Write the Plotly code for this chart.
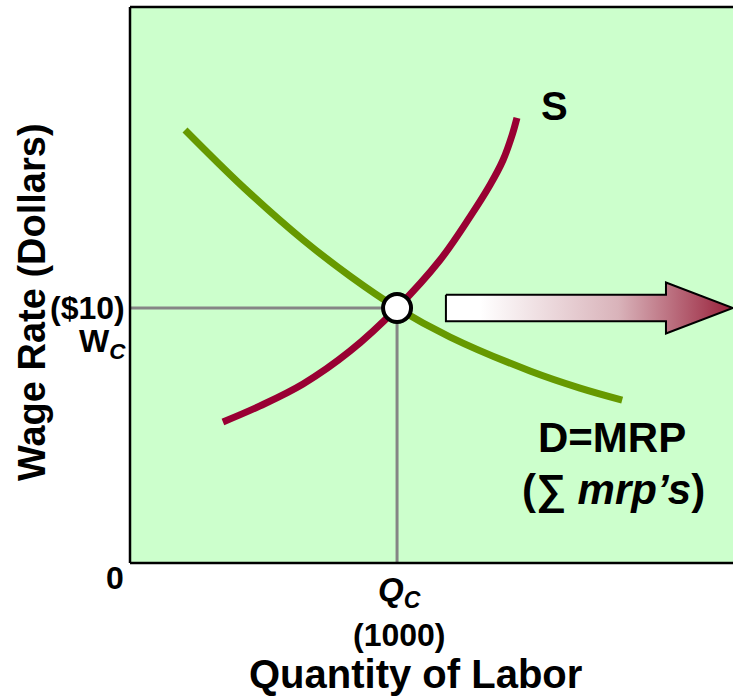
import plotly.graph_objects as go

# ---- data ----
Q_C = 1000          # equilibrium quantity of labor
W_C = 10            # equilibrium wage ($)

demand_q = [206, 427, 648, 824, 1000, 1199, 1498, 1685, 1843]
demand_w = [16.98, 14.71, 12.67, 11.25, 10.0, 8.86, 7.53, 6.86, 6.39]

supply_q = [348, 487, 648, 824, 1000, 1161, 1273, 1348, 1397, 1431, 1449]
supply_w = [5.53, 6.16, 7.02, 8.31, 10.0, 11.88, 13.57, 14.82, 15.80, 16.78, 17.45]

X_MAX = 2258
Y_MAX = 21.8

FONT = "Liberation Sans, Arial, sans-serif"
GREEN = "#669900"
RED = "#990033"
GRAY = "#858585"

fig = go.Figure()

# guide lines
fig.add_trace(go.Scatter(x=[0, Q_C], y=[W_C, W_C], mode="lines",
                         line=dict(color=GRAY, width=3), hoverinfo="skip"))
fig.add_trace(go.Scatter(x=[Q_C, Q_C], y=[0, W_C], mode="lines",
                         line=dict(color=GRAY, width=3), hoverinfo="skip"))

# curves
fig.add_trace(go.Scatter(x=demand_q, y=demand_w, mode="lines",
                         line=dict(color=GREEN, width=7, shape="spline", smoothing=1.0)))
fig.add_trace(go.Scatter(x=supply_q, y=supply_w, mode="lines",
                         line=dict(color=RED, width=7, shape="spline", smoothing=1.0)))

# equilibrium point
fig.add_trace(go.Scatter(x=[Q_C], y=[W_C], mode="markers",
                         marker=dict(size=28, color="white",
                                     line=dict(color="black", width=4))))

# arrow (shift of demand) built relative to equilibrium
a_x0 = Q_C * 1.183
a_xh = Q_C * 2.007
a_x1 = X_MAX
sh = 0.52   # shaft half-height
hh = 1.0    # head half-height
arrow_x = [a_x0, a_xh, a_xh, a_x1, a_xh, a_xh, a_x0, a_x0]
arrow_y = [W_C + sh, W_C + sh, W_C + hh, W_C, W_C - hh, W_C - sh, W_C - sh, W_C + sh]
fig.add_trace(go.Scatter(x=arrow_x, y=arrow_y, mode="lines", fill="toself",
                         line=dict(color="black", width=2),
                         fillgradient=dict(type="horizontal",
                                           colorscale=[[0, "#ffffff"], [0.12, "#ffffff"],
                                                       [0.6, "#d9b3ba"], [1, "#98203a"]]),
                         hoverinfo="skip"))

fig.update_layout(
    width=733, height=698,
    margin=dict(l=130, r=0, t=7, b=135),
    paper_bgcolor="white", plot_bgcolor="#CCFFCC",
    showlegend=False,
    xaxis=dict(range=[0, X_MAX], showgrid=False, zeroline=False, showticklabels=False,
               ticks="", showline=False),
    yaxis=dict(range=[0, Y_MAX], showgrid=False, zeroline=False, showticklabels=False,
               ticks="", showline=False),
    font=dict(family=FONT, color="black"),
)

# frame (left, top, bottom)
for x0, y0, x1, y1 in [(0, 0, 0, 1), (0, 1, 1, 1), (0, 0, 1, 0)]:
    fig.add_shape(type="line", xref="paper", yref="paper", x0=x0, y0=y0, x1=x1, y1=y1,
                  line=dict(color="black", width=2.5))

ann = []
# axis titles
ann.append(dict(text="<b>Quantity of Labor</b>", xref="paper", yref="paper",
                x=(415 - 130) / 603, y=0, yshift=-111, xanchor="center", yanchor="middle",
                showarrow=False, font=dict(size=40)))
ann.append(dict(text="<b>Wage Rate (Dollars)</b>", xref="paper", yref="paper",
                x=0, xshift=-98, y=(563 - 302) / 556, xanchor="center", yanchor="middle",
                textangle=-90, showarrow=False, font=dict(size=38)))
# tick-like labels
ann.append(dict(text="<b>0</b>", x=0, y=0, xshift=-15, yshift=-15, xanchor="center",
                yanchor="middle", showarrow=False, font=dict(size=32)))
ann.append(dict(text="<b><i>Q<sub>C</sub></i></b>", x=Q_C, y=0, xshift=2, yshift=-29,
                xanchor="center", yanchor="middle", showarrow=False, font=dict(size=33)))
ann.append(dict(text="<b>(1000)</b>", x=Q_C, y=0, xshift=2, yshift=-72, xanchor="center",
                yanchor="middle", showarrow=False, font=dict(size=32)))
ann.append(dict(text="<b>($10)</b>", x=0, y=W_C, xshift=-3, yshift=0, xanchor="right",
                yanchor="middle", showarrow=False, font=dict(size=32)))
ann.append(dict(text="<b>W<sub><i>C</i></sub></b>", x=0, y=W_C, xshift=-2, yshift=-36,
                xanchor="right", yanchor="middle", showarrow=False, font=dict(size=32)))
# curve labels
ann.append(dict(text="<b>S</b>", x=(554 - 130) / 0.267, y=(563 - 106) / 25.5,
                showarrow=False, font=dict(size=40)))
ann.append(dict(text="<b>D=MRP</b>", x=(612 - 130) / 0.267, y=(563 - 438) / 25.5,
                showarrow=False, font=dict(size=42)))
ann.append(dict(text="<b>(∑ <i>mrp’s</i>)</b>", x=(613 - 130) / 0.267, y=(563 - 490) / 25.5,
                showarrow=False, font=dict(size=42)))
fig.update_layout(annotations=ann)

# remove the default page margin so the 733x698 figure fills the window exactly
fig.write_html("out.html", config={"displayModeBar": False},
               post_script="document.body.style.margin='0';document.body.style.overflow='hidden';")
